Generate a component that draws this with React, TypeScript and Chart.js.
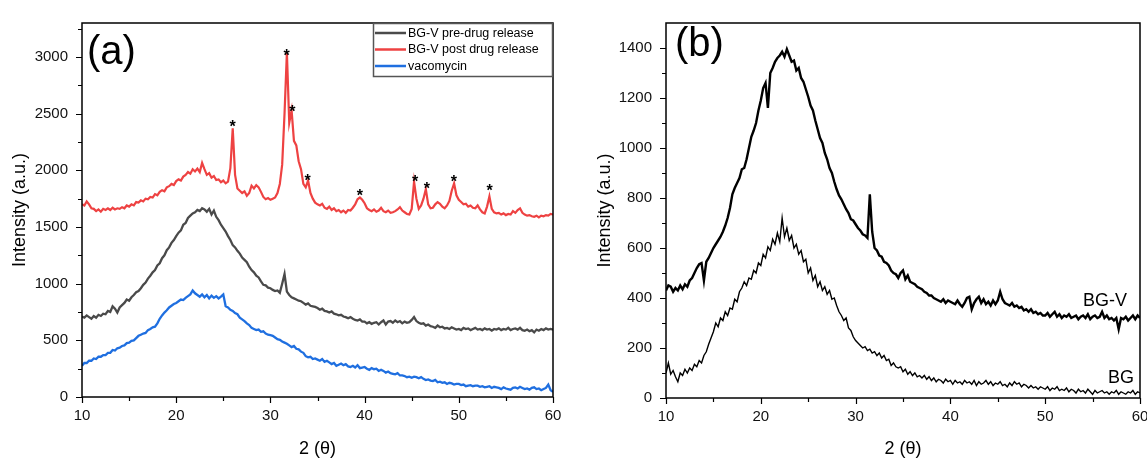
import React, { useEffect, useRef } from "react";
import { Chart, registerables } from "chart.js";
Chart.register(...registerables);

// 2θ grid shared by all series (degrees)
const X_GRID = [
  10, 10.25, 10.5, 10.75, 11, 11.25, 11.5, 11.75, 12, 12.25, 12.5, 12.75, 13, 13.25, 13.5, 13.75, 14, 14.25, 14.5, 14.75,
  15, 15.25, 15.5, 15.75, 16, 16.25, 16.5, 16.75, 17, 17.25, 17.5, 17.75, 18, 18.25, 18.5, 18.75, 19, 19.25, 19.5, 19.75,
  20, 20.25, 20.5, 20.75, 21, 21.25, 21.5, 21.75, 22, 22.25, 22.5, 22.75, 23, 23.25, 23.5, 23.75, 24, 24.25, 24.5, 24.75,
  25, 25.25, 25.5, 25.75, 26, 26.25, 26.5, 26.75, 27, 27.25, 27.5, 27.75, 28, 28.25, 28.5, 28.75, 29, 29.25, 29.5, 29.75,
  30, 30.25, 30.5, 30.75, 31, 31.25, 31.5, 31.75, 32, 32.25, 32.5, 32.75, 33, 33.25, 33.5, 33.75, 34, 34.25, 34.5, 34.75,
  35, 35.25, 35.5, 35.75, 36, 36.25, 36.5, 36.75, 37, 37.25, 37.5, 37.75, 38, 38.25, 38.5, 38.75, 39, 39.25, 39.5, 39.75,
  40, 40.25, 40.5, 40.75, 41, 41.25, 41.5, 41.75, 42, 42.25, 42.5, 42.75, 43, 43.25, 43.5, 43.75, 44, 44.25, 44.5, 44.75,
  45, 45.25, 45.5, 45.75, 46, 46.25, 46.5, 46.75, 47, 47.25, 47.5, 47.75, 48, 48.25, 48.5, 48.75, 49, 49.25, 49.5, 49.75,
  50, 50.25, 50.5, 50.75, 51, 51.25, 51.5, 51.75, 52, 52.25, 52.5, 52.75, 53, 53.25, 53.5, 53.75, 54, 54.25, 54.5, 54.75,
  55, 55.25, 55.5, 55.75, 56, 56.25, 56.5, 56.75, 57, 57.25, 57.5, 57.75, 58, 58.25, 58.5, 58.75, 59, 59.25, 59.5, 59.75,
  60,
];

// Panel (a)
const PRE_DRUG = [
  710, 700, 720, 705, 690, 715, 700, 725, 715, 735, 730, 760, 750, 800, 780, 745, 790, 810, 830, 860,
  850, 880, 900, 925, 935, 960, 990, 1010, 1045, 1070, 1100, 1120, 1160, 1180, 1225, 1250, 1295, 1320, 1360, 1385,
  1420, 1450, 1470, 1520, 1535, 1580, 1600, 1620, 1630, 1650, 1640, 1665, 1655, 1635, 1660, 1610, 1645, 1590, 1560, 1520,
  1490, 1460, 1420, 1385, 1340, 1320, 1290, 1265, 1230, 1210, 1190, 1150, 1120, 1100, 1070, 1055, 1020, 990, 985, 965,
  960, 945, 935, 940, 920, 1000, 1085, 930, 900, 880, 870, 860, 850, 845, 830, 815, 825, 805, 800, 795,
  785, 770, 780, 760, 755, 745, 755, 735, 730, 720, 725, 710, 705, 695, 705, 690, 680, 675, 685, 665,
  665, 650, 660, 645, 655, 660, 640, 660, 675, 640, 665, 670, 655, 675, 660, 670, 650, 665, 655, 660,
  680, 705, 670, 655, 645, 650, 630, 640, 625, 620, 610, 630, 615, 620, 605, 610, 600, 615, 605, 595,
  600, 590, 610, 600, 605, 590, 600, 610, 595, 600, 590, 605, 595, 600, 585, 600, 595, 605, 590, 600,
  595, 610, 590, 600, 605, 595, 610, 590, 585, 595, 580, 590, 570, 595, 585, 600, 590, 605, 595, 600,
  595,
];
const POST_DRUG = [
  1700, 1690, 1725, 1700, 1665, 1660, 1640, 1655, 1635, 1660, 1650, 1665, 1650, 1670, 1655, 1665, 1660, 1675, 1665, 1690,
  1680, 1700, 1690, 1720, 1715, 1735, 1725, 1750, 1745, 1765, 1760, 1790, 1780, 1810, 1825, 1815, 1850, 1860, 1880, 1870,
  1905, 1920, 1910, 1945, 1960, 1985, 1970, 2010, 1990, 2015, 1985, 2065, 2010, 1960, 1975, 1935, 1950, 1915, 1920, 1895,
  1910, 1885, 1900, 2020, 2370, 1960, 1840, 1820, 1800, 1815, 1775, 1800, 1865, 1840, 1870, 1850, 1810, 1765, 1745, 1755,
  1740, 1750, 1760, 1800, 1880, 2050, 2500, 3040, 2420, 2530, 2260, 2220, 2080, 2010, 1880, 1850, 1910, 1800, 1750, 1715,
  1700, 1690, 1705, 1670, 1660, 1680, 1650, 1665, 1640, 1650, 1630, 1645, 1625, 1650, 1645, 1670, 1700, 1745, 1760, 1740,
  1710, 1665, 1650, 1640, 1655, 1635, 1645, 1670, 1640, 1630, 1645, 1625, 1630, 1640, 1655, 1675, 1645, 1630, 1615, 1610,
  1660, 1900, 1750, 1660, 1690, 1750, 1835, 1700, 1665, 1670, 1700, 1720, 1705, 1680, 1665, 1690, 1730, 1820, 1885, 1780,
  1740, 1720, 1700, 1705, 1680, 1690, 1670, 1665, 1690, 1655, 1630, 1620, 1680, 1770, 1660, 1630, 1620, 1625, 1610, 1620,
  1605, 1615, 1610, 1640, 1625, 1650, 1665, 1625, 1610, 1600, 1605, 1595, 1590, 1600, 1585, 1600, 1595, 1605, 1600, 1615,
  1610,
];
const VANCOMYCIN = [
  275, 300, 300, 320, 320, 340, 335, 355, 355, 370, 370, 390, 390, 415, 410, 430, 435, 450, 455, 475,
  480, 495, 500, 520, 540, 550, 560, 565, 590, 600, 615, 620, 650, 690, 720, 745, 765, 790, 805, 820,
  830, 845, 860, 855, 875, 890, 905, 940, 915, 900, 885, 905, 880, 900, 870, 895, 875, 890, 870, 885,
  905, 800, 790, 770, 760, 740, 730, 700, 685, 670, 650, 635, 610, 600, 590, 595, 575, 580, 560, 550,
  545, 540, 525, 510, 505, 490, 480, 470, 455, 440, 450, 425, 420, 400, 390, 360, 350, 355, 335, 340,
  330, 320, 335, 310, 320, 305, 290, 300, 275, 285, 295, 280, 290, 270, 265, 275, 260, 280, 255, 260,
  265, 250, 240, 255, 245, 250, 230, 240, 230, 215, 225, 210, 205, 200, 210, 190, 190, 185, 175, 180,
  170, 180, 175, 165, 175, 160, 150, 155, 145, 140, 150, 130, 135, 125, 130, 115, 125, 120, 110, 115,
  115, 105, 110, 95, 100, 105, 95, 100, 100, 90, 95, 85, 90, 95, 80, 90, 85, 80, 70, 85,
  75, 70, 65, 80, 85, 75, 90, 80, 70, 75, 65, 80, 85, 70, 75, 60, 70, 80, 110, 60,
  45,
];
const STAR_X = [25.98, 31.73, 32.32, 33.96, 39.5, 45.36, 46.6, 49.48, 53.28];
const STAR_Y = [2424, 3050, 2550, 1947, 1809, 1938, 1875, 1933, 1852];

// Panel (b)
const BG_V = [
  430, 450, 445, 425, 440, 430, 450, 435, 455, 445, 470, 480, 500, 520, 535, 540, 470, 545, 560, 580,
  600, 615, 630, 645, 665, 690, 720, 760, 815, 840, 860, 880, 915, 920, 955, 1000, 1045, 1070, 1100, 1150,
  1190, 1240, 1260, 1160, 1300, 1320, 1345, 1360, 1370, 1385, 1365, 1395, 1370, 1345, 1350, 1310, 1320, 1280, 1265, 1235,
  1205, 1170, 1150, 1110, 1075, 1040, 1020, 980, 955, 920, 900, 865, 835, 810, 795, 775, 755, 740, 715, 710,
  695, 680, 670, 655, 650, 640, 815, 665, 600, 590, 570, 565, 545, 540, 530, 510, 500, 495, 480, 500,
  510, 475, 490, 465, 460, 455, 445, 440, 435, 425, 420, 410, 410, 400, 395, 390, 385, 395, 380, 390,
  385, 380, 375, 390, 375, 365, 380, 400, 405, 355, 380, 395, 405, 380, 395, 375, 385, 370, 390, 375,
  390, 425, 395, 380, 375, 370, 380, 365, 370, 360, 365, 350, 355, 345, 355, 340, 345, 335, 340, 330,
  330, 340, 325, 335, 345, 325, 335, 320, 330, 325, 335, 320, 325, 330, 315, 325, 330, 320, 335, 315,
  325, 330, 320, 325, 345, 320, 330, 315, 320, 310, 320, 275, 320, 315, 325, 310, 320, 330, 315, 330,
  320,
];
const BG = [
  100, 140, 95, 110, 85, 65, 100, 90, 115, 100, 120, 110, 135, 125, 150, 140, 170, 185, 215, 240,
  265, 300, 285, 320, 310, 345, 330, 360, 355, 395, 385, 425, 440, 465, 450, 480, 475, 510, 500, 540,
  530, 575, 560, 605, 590, 635, 615, 660, 625, 720, 645, 680, 630, 650, 600, 615, 575, 590, 545, 555,
  500, 520, 470, 490, 445, 465, 430, 445, 415, 430, 395, 400, 370, 345, 330, 310, 320, 280, 270, 245,
  230, 220, 210, 200, 205, 190, 195, 180, 185, 170, 180, 160, 170, 150, 155, 130, 140, 125, 120, 125,
  105, 115, 95, 105, 90, 100, 85, 90, 80, 90, 75, 85, 70, 80, 65, 75, 70, 60, 75, 65,
  70, 55, 70, 60, 65, 55, 70, 60, 65, 55, 70, 50, 65, 55, 60, 70, 55, 65, 50, 60,
  55, 65, 50, 55, 45, 60, 50, 65, 55, 60, 45, 55, 50, 40, 50, 40, 45, 35, 45, 40,
  35, 45, 30, 40, 35, 45, 30, 35, 30, 40, 25, 35, 30, 20, 35, 25, 30, 20, 35, 25,
  15, 30, 20, 25, 30, 20, 25, 15, 25, 20, 30, 15, 25, 20, 15, 25, 20, 30, 15, 25,
  20,
];

const X_TICKS = [10, 20, 30, 40, 50, 60];
const X_MINOR = [15, 25, 35, 45, 55];
const Y_TICKS_A = [0, 500, 1000, 1500, 2000, 2500, 3000];
const Y_MINOR_A = [250, 750, 1250, 1750, 2250, 2750, 3250];
const Y_TICKS_B = [0, 200, 400, 600, 800, 1000, 1200, 1400];
const Y_MINOR_B = [100, 300, 500, 700, 900, 1100, 1300];

const LEGEND_A = ["BG-V pre-drug release", "BG-V post drug release", "vacomycin"];
const COLORS_A = ["#4a4a4a", "#ee4242", "#1f6fe0"];

const FONT = '"Liberation Sans", Arial, Helvetica, sans-serif';

const toPts = (ys: number[]) => ys.map((y, i) => ({ x: X_GRID[i], y }));

type Cfg = {
  yMax: number;
  yTicks: number[];
  yMinor: number[];
  yWidth: number;
  xHeight: number;
  padRight: number;
  padTop: number;
  yTitleX: number;
  panel: string;
  panelX: number;
  panelBase: number;
  extra: (chart: any) => void;
  datasets: any[];
};

function buildChart(canvas: HTMLCanvasElement, cfg: Cfg) {
  const framePlugin = {
    id: "frame",
    afterDraw(chart: any) {
      const { ctx, chartArea: a, scales } = chart;
      const xs = scales.x;
      const ys = scales.y;
      ctx.save();
      ctx.strokeStyle = "#000";
      ctx.lineWidth = 1.5;
      ctx.strokeRect(a.left, a.top, a.right - a.left, a.bottom - a.top);
      ctx.lineWidth = 1.2;
      ctx.beginPath();
      X_TICKS.forEach((v) => {
        const p = Math.round(xs.getPixelForValue(v)) + 0.5;
        ctx.moveTo(p, a.bottom);
        ctx.lineTo(p, a.bottom + 6);
      });
      X_MINOR.forEach((v) => {
        const p = Math.round(xs.getPixelForValue(v)) + 0.5;
        ctx.moveTo(p, a.bottom);
        ctx.lineTo(p, a.bottom + 4);
      });
      cfg.yTicks.forEach((v) => {
        const p = Math.round(ys.getPixelForValue(v)) + 0.5;
        ctx.moveTo(a.left, p);
        ctx.lineTo(a.left - 6, p);
      });
      cfg.yMinor.forEach((v) => {
        if (v > cfg.yMax) return;
        const p = Math.round(ys.getPixelForValue(v)) + 0.5;
        ctx.moveTo(a.left, p);
        ctx.lineTo(a.left - 4, p);
      });
      ctx.stroke();

      ctx.fillStyle = "#000";
      ctx.font = `18px ${FONT}`;
      ctx.textAlign = "center";
      ctx.textBaseline = "alphabetic";
      ctx.fillText("2 (θ)", (a.left + a.right) / 2, 454);
      ctx.save();
      ctx.translate(cfg.yTitleX, (a.top + a.bottom) / 2);
      ctx.rotate(-Math.PI / 2);
      ctx.fillText("Intensity (a.u.)", 0, 4.7);
      ctx.restore();

      ctx.font = `40px ${FONT}`;
      ctx.textAlign = "left";
      ctx.fillText(cfg.panel, cfg.panelX, cfg.panelBase);

      cfg.extra(chart);
      ctx.restore();
    },
  };

  const tickFont = { family: FONT, size: 15 };
  return new Chart(canvas, {
    type: "line",
    data: { datasets: cfg.datasets },
    options: {
      responsive: false,
      animation: false,
      events: [],
      layout: { padding: { left: 0, right: cfg.padRight, top: cfg.padTop, bottom: 0 } },
      plugins: { legend: { display: false }, tooltip: { enabled: false } },
      elements: { point: { radius: 0 }, line: { tension: 0 } },
      scales: {
        x: {
          type: "linear",
          min: 10,
          max: 60,
          grid: { display: false, drawTicks: false },
          border: { display: false },
          ticks: { font: tickFont, color: "#111", padding: 10, maxRotation: 0, autoSkip: false, callback: (v: any) => String(v) },
          afterBuildTicks: (s: any) => {
            s.ticks = X_TICKS.map((v) => ({ value: v }));
          },
          afterFit: (s: any) => {
            s.height = cfg.xHeight;
          },
        },
        y: {
          type: "linear",
          min: 0,
          max: cfg.yMax,
          grid: { display: false, drawTicks: false },
          border: { display: false },
          ticks: { font: tickFont, color: "#111", padding: 14, callback: (v: any) => String(v) },
          afterBuildTicks: (s: any) => {
            s.ticks = cfg.yTicks.map((v) => ({ value: v }));
          },
          afterFit: (s: any) => {
            s.width = cfg.yWidth;
          },
        },
      },
    },
    plugins: [framePlugin],
  } as any);
}

export default function App() {
  const refA = useRef<HTMLCanvasElement>(null);
  const refB = useRef<HTMLCanvasElement>(null);

  useEffect(() => {
    const chartA = buildChart(refA.current!, {
      yMax: 3300,
      yTicks: Y_TICKS_A,
      yMinor: Y_MINOR_A,
      yWidth: 82,
      xHeight: 62,
      padRight: 22,
      padTop: 16,
      yTitleX: 20,
      panel: "(a)",
      panelX: 87,
      panelBase: 63.5,
      datasets: [
        { label: LEGEND_A[0], data: toPts(PRE_DRUG), borderColor: COLORS_A[0], borderWidth: 2.3, fill: false },
        { label: LEGEND_A[1], data: toPts(POST_DRUG), borderColor: COLORS_A[1], borderWidth: 2.2, fill: false },
        { label: LEGEND_A[2], data: toPts(VANCOMYCIN), borderColor: COLORS_A[2], borderWidth: 2.3, fill: false },
      ],
      extra: (chart: any) => {
        const { ctx, scales } = chart;
        ctx.fillStyle = "#000";
        ctx.font = `bold 16px ${FONT}`;
        ctx.textAlign = "center";
        ctx.textBaseline = "alphabetic";
        STAR_X.forEach((x, i) => {
          const px = scales.x.getPixelForValue(x);
          const py = scales.y.getPixelForValue(STAR_Y[i]);
          ctx.fillText("*", px, py + 9.3);
        });
        // legend box
        ctx.fillStyle = "#fff";
        ctx.fillRect(373, 23, 179, 54);
        ctx.strokeStyle = "#555";
        ctx.lineWidth = 1.5;
        ctx.strokeRect(373.5, 23.5, 179, 53);
        const rows = [33, 49.5, 66];
        ctx.font = `12.5px ${FONT}`;
        ctx.textAlign = "left";
        ctx.textBaseline = "middle";
        LEGEND_A.forEach((t, i) => {
          ctx.strokeStyle = COLORS_A[i];
          ctx.lineWidth = 2.5;
          ctx.beginPath();
          ctx.moveTo(375, rows[i]);
          ctx.lineTo(406, rows[i]);
          ctx.stroke();
          ctx.fillStyle = "#000";
          ctx.fillText(t, 408, rows[i] + 0.5);
        });
      },
    });

    const chartB = buildChart(refB.current!, {
      yMax: 1500,
      yTicks: Y_TICKS_B,
      yMinor: Y_MINOR_B,
      yWidth: 86,
      xHeight: 61,
      padRight: 30,
      padTop: 17,
      yTitleX: 25,
      panel: "(b)",
      panelX: 95,
      panelBase: 56,
      datasets: [
        { label: "BG", data: toPts(BG), borderColor: "#000", borderWidth: 1.4, fill: false },
        { label: "BG-V", data: toPts(BG_V), borderColor: "#000", borderWidth: 2.4, fill: false },
      ],
      extra: (chart: any) => {
        const { ctx } = chart;
        ctx.fillStyle = "#000";
        ctx.font = `18px ${FONT}`;
        ctx.textAlign = "left";
        ctx.textBaseline = "alphabetic";
        ctx.fillText("BG-V", 503, 306);
        ctx.fillText("BG", 528, 383);
      },
    });

    return () => {
      chartA.destroy();
      chartB.destroy();
    };
  }, []);

  return (
    <div style={{ position: "absolute", left: 0, top: 0, width: 1147, height: 459, overflow: "hidden", background: "#fff" }}>
      <canvas ref={refA} width={575} height={459} style={{ position: "absolute", left: 0, top: 0, width: 575, height: 459 }} />
      <canvas ref={refB} width={590} height={459} style={{ position: "absolute", left: 580, top: 0, width: 590, height: 459 }} />
    </div>
  );
}
